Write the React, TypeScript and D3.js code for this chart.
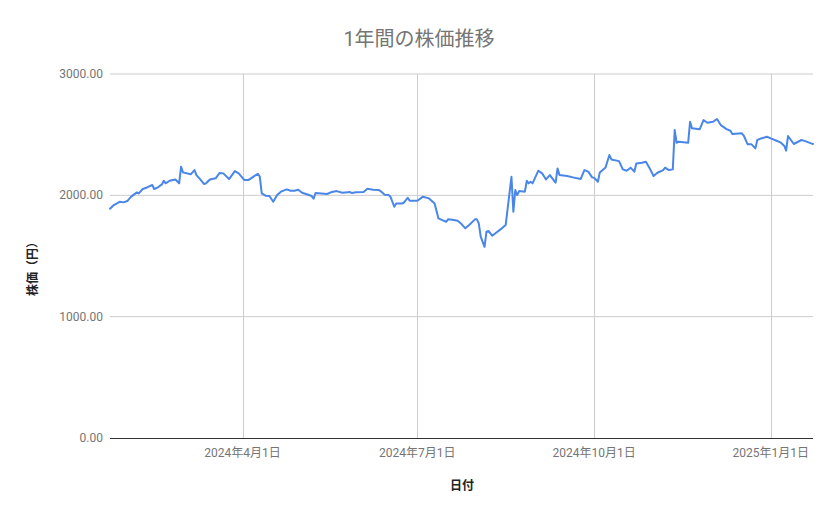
import * as d3 from 'd3';

const DATES = [
  '2024-01-23', '2024-01-25', '2024-01-28', '2024-01-30', '2024-02-01', '2024-02-03', '2024-02-06', '2024-02-07',
  '2024-02-09', '2024-02-11', '2024-02-14', '2024-02-15', '2024-02-17', '2024-02-19', '2024-02-20', '2024-02-21',
  '2024-02-23', '2024-02-26', '2024-02-28', '2024-02-29', '2024-03-01', '2024-03-05', '2024-03-07', '2024-03-08',
  '2024-03-10', '2024-03-12', '2024-03-13', '2024-03-15', '2024-03-18', '2024-03-20', '2024-03-22', '2024-03-25',
  '2024-03-28', '2024-03-30', '2024-04-02', '2024-04-04', '2024-04-09', '2024-04-10', '2024-04-11', '2024-04-13',
  '2024-04-15', '2024-04-17', '2024-04-19', '2024-04-21', '2024-04-24', '2024-04-26', '2024-04-28', '2024-04-30',
  '2024-05-02', '2024-05-04', '2024-05-07', '2024-05-08', '2024-05-09', '2024-05-12', '2024-05-15', '2024-05-17',
  '2024-05-20', '2024-05-23', '2024-05-27', '2024-05-28', '2024-05-30', '2024-06-03', '2024-06-05', '2024-06-08',
  '2024-06-11', '2024-06-12', '2024-06-14', '2024-06-16', '2024-06-17', '2024-06-19', '2024-06-20', '2024-06-23',
  '2024-06-24', '2024-06-26', '2024-06-27', '2024-07-01', '2024-07-04', '2024-07-07', '2024-07-09', '2024-07-10',
  '2024-07-12', '2024-07-14', '2024-07-16', '2024-07-17', '2024-07-20', '2024-07-22', '2024-07-24', '2024-07-26',
  '2024-07-28', '2024-07-31', '2024-08-01', '2024-08-02', '2024-08-03', '2024-08-05', '2024-08-06', '2024-08-07',
  '2024-08-09', '2024-08-11', '2024-08-14', '2024-08-16', '2024-08-19', '2024-08-20', '2024-08-21', '2024-08-22',
  '2024-08-23', '2024-08-26', '2024-08-27', '2024-08-28', '2024-08-29', '2024-08-30', '2024-09-02', '2024-09-04',
  '2024-09-06', '2024-09-08', '2024-09-11', '2024-09-12', '2024-09-13', '2024-09-17', '2024-09-20', '2024-09-24',
  '2024-09-26', '2024-09-28', '2024-09-30', '2024-10-01', '2024-10-03', '2024-10-04', '2024-10-07', '2024-10-09',
  '2024-10-10', '2024-10-14', '2024-10-16', '2024-10-18', '2024-10-20', '2024-10-22', '2024-10-23', '2024-10-26',
  '2024-10-28', '2024-10-30', '2024-11-01', '2024-11-03', '2024-11-06', '2024-11-07', '2024-11-09', '2024-11-11',
  '2024-11-12', '2024-11-13', '2024-11-14', '2024-11-19', '2024-11-20', '2024-11-21', '2024-11-25', '2024-11-27',
  '2024-11-29', '2024-12-02', '2024-12-04', '2024-12-06', '2024-12-09', '2024-12-11', '2024-12-12', '2024-12-17',
  '2024-12-18', '2024-12-20', '2024-12-22', '2024-12-24', '2024-12-25', '2024-12-27', '2024-12-30', '2025-01-01',
  '2025-01-04', '2025-01-06', '2025-01-08', '2025-01-09', '2025-01-10', '2025-01-13', '2025-01-17', '2025-01-19',
  '2025-01-22', '2025-01-23',
];

const PRICES = [
  1890, 1920, 1947, 1942, 1953, 1989, 2024, 2016,
  2052, 2063, 2085, 2052, 2066, 2090, 2120, 2099,
  2120, 2131, 2099, 2236, 2189, 2173, 2208, 2167,
  2131, 2093, 2099, 2131, 2140, 2184, 2181, 2134,
  2200, 2181, 2126, 2126, 2178, 2153, 2016, 1997,
  1994, 1947, 2002, 2030, 2049, 2038, 2038, 2046,
  2021, 2011, 1994, 1972, 2019, 2016, 2011, 2025,
  2035, 2021, 2027, 2019, 2025, 2027, 2054, 2046,
  2044, 2033, 2005, 2002, 1989, 1906, 1933, 1933,
  1939, 1980, 1955, 1955, 1989, 1975, 1947, 1933,
  1810, 1796, 1782, 1802, 1796, 1791, 1763, 1728,
  1755, 1802, 1802, 1769, 1659, 1576, 1700, 1706,
  1667, 1692, 1728, 1755, 2153, 1865, 2044, 2002,
  2035, 2030, 2120, 2099, 2112, 2099, 2203, 2181,
  2131, 2167, 2104, 2222, 2167, 2159, 2148, 2134,
  2208, 2195, 2148, 2145, 2112, 2189, 2230, 2332,
  2296, 2282, 2214, 2203, 2228, 2195, 2263, 2269,
  2277, 2222, 2159, 2186, 2208, 2228, 2208, 2214,
  2538, 2433, 2442, 2433, 2606, 2552, 2544, 2620,
  2598, 2606, 2629, 2579, 2546, 2532, 2505, 2511,
  2491, 2420, 2420, 2387, 2456, 2469, 2483, 2469,
  2450, 2437, 2409, 2368, 2489, 2423, 2456, 2447,
  2428, 2423,
];

const Y_TICKS = [0, 1000, 2000, 3000];
const X_TICKS = ['2024-04-01', '2024-07-01', '2024-10-01', '2025-01-01'];

const TITLE = '1年間の株価推移';
const X_TITLE = '日付';
const Y_TITLE = '株価（円）';

const W = 839;
const H = 519;
const margin = { top: 74, right: 26, bottom: 81, left: 110 };
const FONT = "Roboto, 'Noto Sans CJK JP', sans-serif";

const parse = d3.timeParse('%Y-%m-%d');
const fmtTick = (d: Date) => `${d.getFullYear()}年${d.getMonth() + 1}月${d.getDate()}日`;

export default function App() {
  const data = DATES.map((d, i) => ({ date: parse(d)!, value: PRICES[i] }));
  const innerW = W - margin.left - margin.right;
  const innerH = H - margin.top - margin.bottom;

  const x = d3.scaleTime()
    .domain(d3.extent(data, d => d.date) as [Date, Date])
    .range([0, innerW]);

  const y = d3.scaleLinear()
    .domain([0, 3000])
    .range([innerH, 0]);

  const line = d3.line<{ date: Date; value: number }>()
    .x(d => x(d.date))
    .y(d => y(d.value));

  return (
    <svg width={W} height={H} style={{ position: 'absolute', left: 0, top: 0, background: '#fff' }}>
      <text
        x={419} y={39}
        textAnchor="middle" dominantBaseline="central"
        fontSize={20} fontFamily={FONT} fill="#757575"
      >
        {TITLE}
      </text>

      <g transform={`translate(${margin.left},${margin.top})`}>
        {/* horizontal grid */}
        {Y_TICKS.filter(t => t > 0).map(t => (
          <line key={t} x1={0} x2={innerW} y1={y(t)} y2={y(t)} stroke="#cccccc" strokeWidth={1} />
        ))}
        {/* vertical grid */}
        {X_TICKS.map(t => {
          const px = Math.round(x(parse(t)!)) + 0.5;
          return <line key={t} x1={px} x2={px} y1={0} y2={innerH} stroke="#cccccc" strokeWidth={1} />;
        })}

        {Y_TICKS.map(t => (
          <text
            key={t}
            x={-7} y={y(t)}
            textAnchor="end" dominantBaseline="central"
            fontSize={12} fontFamily={FONT} fill="#757575"
          >
            {t.toFixed(2)}
          </text>
        ))}

        {X_TICKS.map(t => (
          <text
            key={t}
            x={x(parse(t)!)} y={innerH + 15}
            textAnchor="middle" dominantBaseline="central"
            fontSize={12} fontFamily={FONT} fill="#757575"
          >
            {fmtTick(parse(t)!)}
          </text>
        ))}

        <path
          d={line(data) ?? ''}
          fill="none"
          stroke="#4a86e8"
          strokeWidth={2}
          strokeLinejoin="round"
          strokeLinecap="round"
        />

        {/* x axis baseline */}
        <line x1={0} x2={innerW} y1={innerH + 0.5} y2={innerH + 0.5} stroke="#333333" strokeWidth={1} />
      </g>

      <text
        x={462} y={486}
        textAnchor="middle" dominantBaseline="central"
        fontSize={12} fontWeight="bold" fontFamily={FONT} fill="#222222"
      >
        {X_TITLE}
      </text>
      <text
        transform={`translate(33,266) rotate(-90)`}
        textAnchor="middle" dominantBaseline="central"
        fontSize={12} fontWeight="bold" fontFamily={FONT} fill="#222222"
      >
        {Y_TITLE}
      </text>
    </svg>
  );
}
